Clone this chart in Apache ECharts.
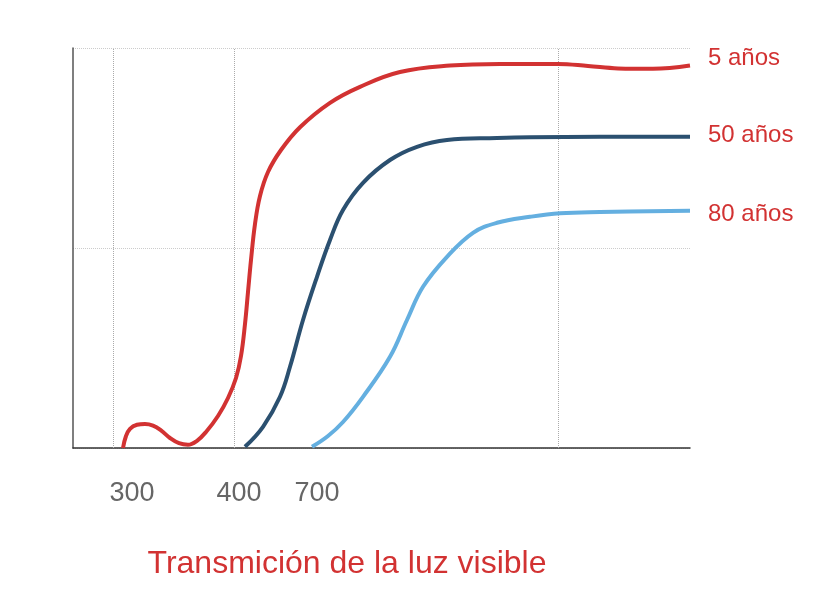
<!DOCTYPE html>
<html>
<head>
<meta charset="utf-8">
<script src="https://cdn.jsdelivr.net/npm/echarts@6/dist/echarts.min.js"></script>
<style>
  html, body { margin: 0; padding: 0; background: #fff; }
  #chart { width: 816px; height: 602px; }
</style>
</head>
<body>
<div id="chart"></div>
<script>
// posiciones en el eje horizontal (unidades arbitrarias 0..617)
var tickPos = [59, 166, 244];
var tickLabels = ['300', '400', '700'];
var gridPos = [40, 161, 485];

// 5 años
var serie5 = [
  [50, 0], [53, 3], [57, 4.8], [64, 5.8], [72, 6], [80, 5.6], [88, 4.4],
  [97, 2.5], [106, 1.2], [115, 0.8], [124, 1.8], [133, 4], [145, 8],
  [155, 12.5], [163, 17.5], [168, 23], [172, 31], [175, 39], [178, 47],
  [182, 56], [187, 63], [195, 69], [208, 74.5], [227, 80.2], [257, 86.3],
  [287, 90.3], [327, 94], [377, 95.6], [427, 96], [485, 96], [515, 95.5],
  [545, 94.9], [580, 94.8], [617, 95.6]
];
// 50 años
var serie50 = [
  [172, 0.3], [190, 5.3], [207, 12.8], [217, 20.3], [230, 32], [244, 42.8],
  [257, 52], [270, 59.5], [290, 66.3], [317, 72], [344, 75.3], [374, 77],
  [424, 77.5], [457, 77.7], [527, 77.8], [617, 77.8]
];
// 80 años
var serie80 = [
  [239, 0.3], [255, 3], [270, 6.5], [290, 12.8], [317, 22.8], [334, 32],
  [350, 40.3], [374, 47.8], [400, 53.8], [424, 56.3], [457, 57.8],
  [487, 58.7], [527, 59], [617, 59.3]
];

var names = ['5 años', '50 años', '80 años'];
var colors = ['#d23232', '#2b5070', '#64afe0'];
var labelOffsets = [[0, -7], [0, -1], [0, 4]];
var datos = [serie5, serie50, serie80];

var chart = echarts.init(document.getElementById('chart'));

var series = [];
for (var i = 0; i < datos.length; i++) {
  series.push({
    name: names[i],
    type: 'line',
    data: datos[i],
    smooth: 0.4,
    symbol: 'none',
    lineStyle: { color: colors[i], width: 4 },
    endLabel: {
      show: true,
      formatter: '{a}',
      color: '#d23232',
      fontSize: 24,
      fontFamily: 'Liberation Sans',
      distance: 18,
      offset: labelOffsets[i]
    },
    z: 3
  });
}
// lineas verticales punteadas
var markData = [];
for (var j = 0; j < gridPos.length; j++) {
  markData.push({ xAxis: gridPos[j] });
}
series[0].markLine = {
  silent: true,
  symbol: 'none',
  label: { show: false },
  lineStyle: { type: 'dotted', color: '#aaa', width: 1 },
  data: markData,
  z: 1
};

var option = {
  animation: false,
  backgroundColor: '#fff',
  grid: { left: 73, right: 126, top: 48, bottom: 154 },
  title: {
    text: 'Transmición de la luz visible',
    left: 346,
    textAlign: 'center',
    top: 543,
    textStyle: {
      color: '#d23232',
      fontSize: 32,
      fontWeight: 'normal',
      fontFamily: 'Liberation Sans'
    }
  },
  xAxis: {
    type: 'value',
    min: 0,
    max: 617,
    axisLine: { show: true, lineStyle: { color: '#333', width: 1.5 } },
    axisTick: { show: false },
    splitLine: { show: false },
    axisLabel: {
      customValues: tickPos,
      margin: 32,
      color: '#666',
      fontSize: 27,
      fontFamily: 'Liberation Sans',
      formatter: function (v) {
        var k = tickPos.indexOf(v);
        return k >= 0 ? tickLabels[k] : '';
      }
    }
  },
  yAxis: {
    type: 'value',
    min: 0,
    max: 100,
    interval: 50,
    axisLine: { show: true, lineStyle: { color: '#555', width: 1.5 } },
    axisTick: { show: false },
    axisLabel: { show: false },
    splitLine: { show: true, lineStyle: { type: 'dotted', color: '#ccc' } }
  },
  series: series
};
option.title.left = 342;
chart.setOption(option);
</script>
</body>
</html>
